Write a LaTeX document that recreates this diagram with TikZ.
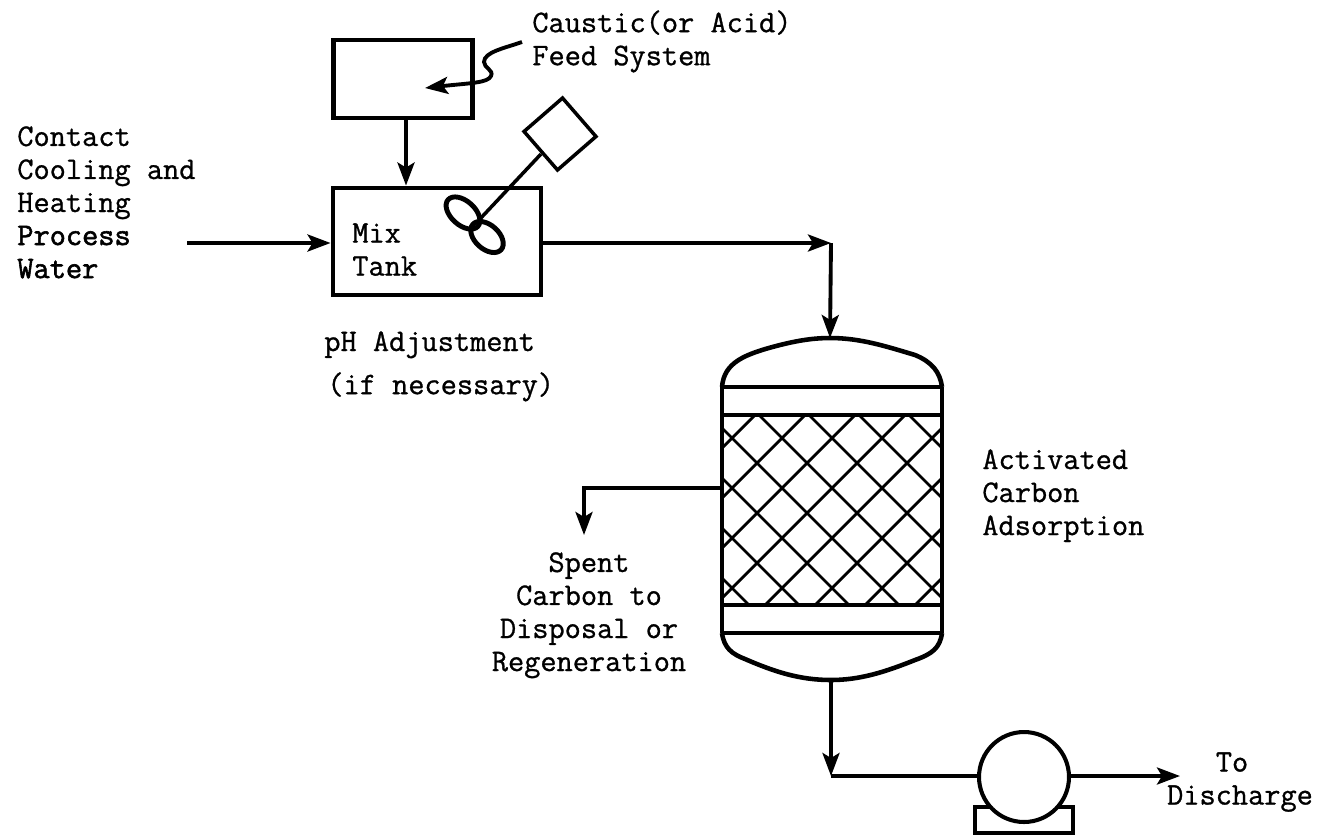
\documentclass[tikz,border=0pt]{standalone}
\usepackage{fontspec}
\usepackage{tikz}
\usetikzlibrary{shapes.geometric,arrows.meta,positioning,calc}
\newfontfamily\typefont{Latin Modern Mono}[RawFeature={embolden=0.9}]
\newfontfamily\typebold{Latin Modern Mono}[RawFeature={embolden=1.8}]

\begin{document}
\begin{tikzpicture}[
    x=0.02cm,y=-0.02cm,
    blk/.style={rectangle,draw,line width=2.8pt,inner sep=0pt,fill=white},
    lbl/.style={inner sep=0pt,align=left,anchor=north west,font=\fontsize{17.9}{18.8}\selectfont\typefont},
    lblc/.style={lbl,align=center,anchor=north},
    arr/.style={-{Stealth[length=4.6mm,width=3.4mm,inset=1mm]},line width=2.2pt},
    vessel/.style={line width=2.6pt},
    mesh/.style={line width=1.6pt},
]
\useasboundingbox (0,0) rectangle (1321,836);

\node[blk,minimum width=2.78cm,minimum height=1.56cm] (feed) at (403,79) {};
\node[blk,minimum width=4.16cm,minimum height=2.14cm] (mix) at (437,241.5) {};
\node[blk,line width=2pt,minimum width=1.02cm,minimum height=1.02cm,rotate=41] (motor) at (560,134) {};
\node[blk,ellipse,fill=none,minimum width=0.8cm,minimum height=0.48cm,rotate=-42] (bladea) at (463,213) {};
\node[blk,ellipse,fill=none,minimum width=0.76cm,minimum height=0.48cm,rotate=-42] (bladeb) at (487,237) {};

\node[blk,line width=1.8pt,minimum width=1.96cm,minimum height=0.52cm] (base) at (1024,820) {};
\node[blk,circle,line width=2.3pt,minimum size=1.8cm] (pump) at (1024,777) {};

\coordinate (coltop) at (830,338);
\coordinate (colbot) at (831,680);
\coordinate (colside) at (722,488);
\coordinate (inflow) at (187,243);
\coordinate (mixout) at (541,243);
\coordinate (junctop) at (831,243);
\coordinate (juncbot) at (831,776);
\coordinate (spentbend) at (584,488);
\coordinate (spentend) at (584,535);
\coordinate (dischend) at (1180,776);
\coordinate (feedout) at (406,118);
\coordinate (causticout) at (522,42);
\coordinate (causticin) at (425,88);
\coordinate (shaft) at (479,220);

% column
\begin{scope}
\clip (722,415) rectangle (942,605);
\foreach \i in {-4,...,6} {
    \draw[mesh] (294+\i*50+300,300) -- (294+\i*50+700,700);
    \draw[mesh] (1220+\i*50-300,300) -- (1220+\i*50-700,700);
}
\end{scope}
\draw[vessel] (722,387) .. controls (724,362) and (745,354) .. (780,345)
    .. controls (800,340) and (815,338) .. (coltop)
    .. controls (860,338) and (885,346) .. (915,355)
    .. controls (932,362) and (940,372) .. (942,387);
\draw[vessel] (722,387) -- (722,633) (942,387) -- (942,633);
\draw[vessel,line width=1.8pt] (722,387) -- (942,387);
\draw[vessel] (722,415) -- (942,415);
\draw[vessel] (722,605) -- (942,605);
\draw[vessel,line width=1.8pt] (722,633) -- (942,633);
\draw[vessel] (722,633) .. controls (724,648) and (732,654) .. (745,659)
    .. controls (775,672) and (800,680) .. (colbot)
    .. controls (860,680) and (885,672) .. (915,660)
    .. controls (932,654) and (940,648) .. (942,633);

% connectors
\draw[arr] (feedout) -- (feedout |- mix.north);
\draw[arr] (inflow) -- (inflow -| mix.west);
\draw[arr] (mixout) -- (junctop);
\draw[arr] (junctop) -- (coltop);
\draw[arr] (colside) -- (spentbend) -- (spentend);
\draw[arr] (colbot) -- (juncbot);
\draw[line width=2.2pt] (juncbot) -- (juncbot -| pump.west);
\draw[arr] (juncbot -| pump.east) -- (dischend);
\draw[line width=2pt] (motor) ++(-19,20) -- (shaft);
\draw[arr] (causticout) .. controls (505,48) and (484,52) .. (484,62)
    .. controls (484,68) and (494,70) .. (491,76)
    .. controls (488,83) and (470,83) .. (causticin);

% labels
\node[lbl] (caustic) at (532,10) {Caustic(or Acid)\\Feed System};
\node[lbl] (contact) at (17,126) {Contact\\Cooling and\\Heating\\{\typebold Process}\\{\typebold Water}};
\node[lbl] (tank) at (352,223) {Mix\\Tank};
\node[lbl] (phadj) at (324,331) {pH Adjustment};
\node[lbl] (ifnec) at (327,372) {(if necessary)};
\node[lbl] (carbon) at (982,449) {Activated\\Carbon\\Adsorption};
\node[lblc] (spent) at (589,552) {Spent\\Carbon to\\Disposal or\\Regeneration};
\node[lblc] (todisch) at (1232,752) {To};
\node[lblc] (disch) at (1240,785) {Discharge};
\end{tikzpicture}
\end{document}
